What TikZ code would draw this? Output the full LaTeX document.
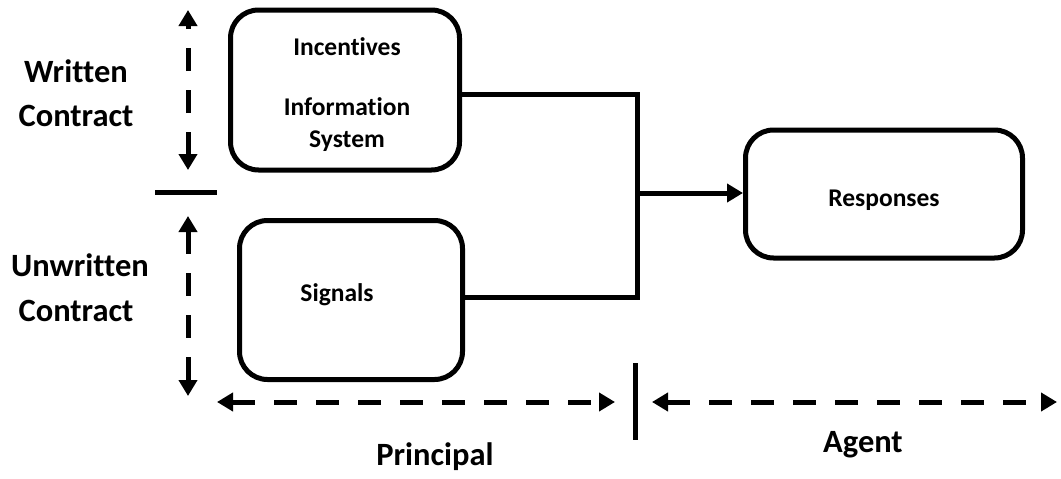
\documentclass[tikz,border=0pt]{standalone}
\usepackage{fontspec}
\setmainfont{Carlito}[Ligatures=NoCommon]
\usetikzlibrary{arrows.meta}
\begin{document}
\begin{tikzpicture}[x=1pt,y=-1pt,
  box/.style={draw,line width=5pt,rounded corners=28pt,inner sep=0pt},
  btext/.style={font=\fontsize{25.5}{28}\selectfont\bfseries,inner sep=0pt,align=center},
  ltext/.style={font=\fontsize{32.5}{36}\selectfont\bfseries,inner sep=0pt,align=center},
  conn/.style={line width=5pt},
  darrow/.style={line width=5pt,dash pattern=on 23pt off 19pt,{Triangle[length=16pt,width=18pt]}-{Triangle[length=16pt,width=18pt]}}
]
\useasboundingbox (0,0) rectangle (1061,479);
% boxes
\node[box,minimum width=229pt,minimum height=160pt] (b1) at (345,90) {};
\node[box,minimum width=223pt,minimum height=159pt] (b2) at (351,300) {};
\node[box,minimum width=277pt,minimum height=128pt] (resp) at (884,194) {};
% box texts
\node[btext,anchor=base] (tinc) at (347,55) {Incentives};
\node[btext,anchor=base] (tinf) at (347,115) {Information};
\node[btext,anchor=base] (tsys) at (347,147) {System};
\node[btext] (tsig) at (337,295) {Signals};
\node[btext] (tresp) at (884,200) {Responses};
% connectors
\coordinate (j1) at (637,94);
\coordinate (j2) at (637,297);
\coordinate (j3) at (637,193);
\draw[conn] (b1.east |- j1) -- (j1) -- (j2) -- (b2.east |- j2);
\draw[conn,-{Triangle[length=16pt,width=18pt]}] (j3) -- (resp.west |- j3);
% left labels
\node[ltext,anchor=base] (lw1) at (76,82) {Written};
\node[ltext,anchor=base] (lw2) at (76,126) {Contract};
\node[ltext,anchor=base] (lu1) at (80,276) {Unwritten};
\node[ltext,anchor=base] (lu2) at (76,321) {Contract};
% vertical arrows and separator
\coordinate (va1) at (188,10);
\coordinate (va2) at (188,170);
\coordinate (vb1) at (188,216);
\coordinate (vb2) at (188,396);
\draw[darrow] (va2) -- (va1);
\draw[darrow] (vb1) -- (vb2);
\coordinate (hs1) at (155,192);
\coordinate (hs2) at (217,192);
\draw[conn] (hs1) -- (hs2);
% bottom arrows and separator
\coordinate (pa1) at (217,402);
\coordinate (pa2) at (615,402);
\coordinate (aa1) at (652,402);
\coordinate (aa2) at (1057,402);
\draw[darrow] (pa1) -- (pa2);
\draw[darrow] (aa1) -- (aa2);
\coordinate (vs1) at (635,363);
\coordinate (vs2) at (635,440);
\draw[conn] (vs1) -- (vs2);
\node[ltext,anchor=base] (lp) at (435,465) {Principal};
\node[ltext,anchor=base] (la) at (863,452) {Agent};
\end{tikzpicture}
\end{document}
